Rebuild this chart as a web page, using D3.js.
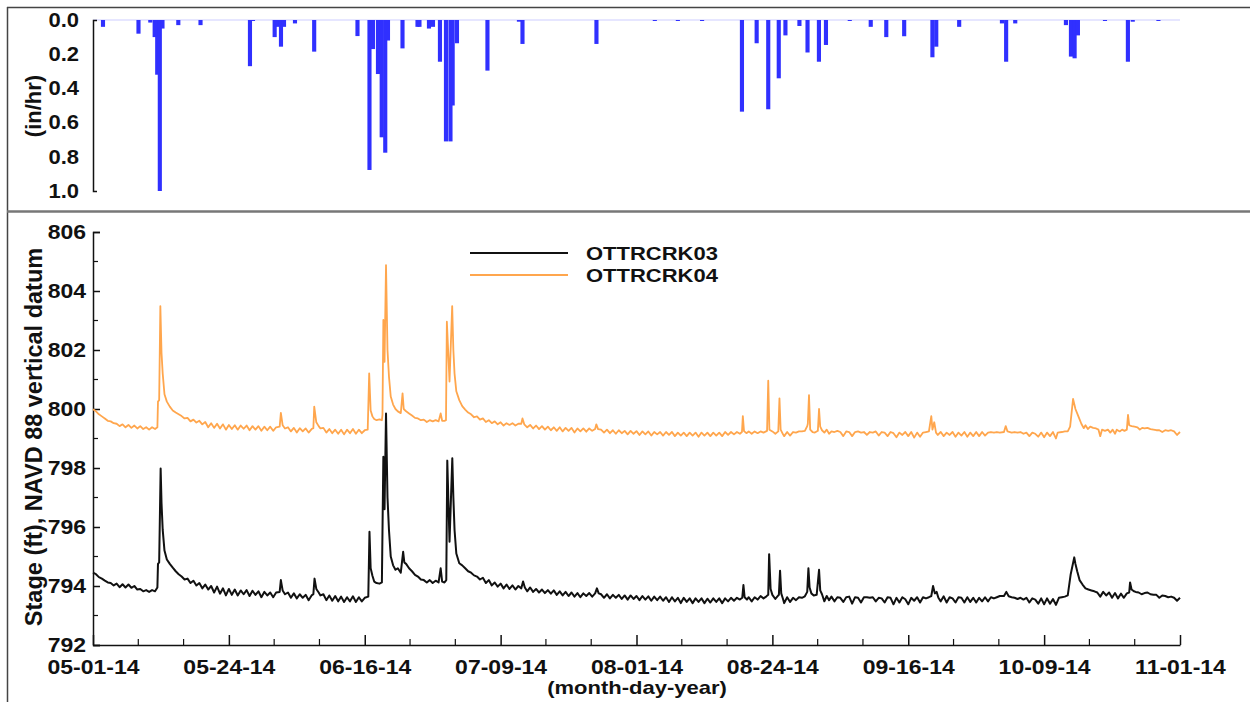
<!DOCTYPE html>
<html>
<head>
<meta charset="utf-8">
<script src="https://cdn.jsdelivr.net/npm/d3@7"></script>
<style>
  html, body { margin: 0; padding: 0; background: #fff; }
  svg text { font-family: "Liberation Sans", Arial, sans-serif; font-weight: bold; fill: #111; }
</style>
</head>
<body>
<svg id="chart" width="1250" height="702"></svg>
<script>
// Rainfall intensity: bar centre (days after 05-01-14) and rate (in/hr)
const rainDays  = [1.69, 7.70, 9.70, 10.44, 10.87, 11.31, 11.76, 14.44, 18.20, 26.57, 27.08,
  30.75, 31.31, 31.82, 32.33, 34.19, 37.44, 44.77, 46.80, 47.39, 48.24, 48.87, 49.47, 49.93,
  52.39, 54.93, 55.26, 56.87, 57.55, 58.73, 59.75, 60.51, 60.88, 61.61, 66.77, 72.10, 72.70,
  85.22, 95.1, 99.0, 103.1, 109.85, 112.34, 114.30, 116.08, 117.21, 119.58, 120.95, 122.88,
  124.07, 128.1, 131.65, 134.28, 137.31, 142.09, 142.74, 146.62, 153.86, 154.57, 156.11,
  164.69, 165.54, 166.16, 166.72, 171.3, 175.18, 176.0, 180.35];
const rainRates = [0.04, 0.08, 0.015, 0.10, 0.32, 1.00, 0.05, 0.03, 0.03, 0.27, 0.005,
  0.10, 0.04, 0.156, 0.04, 0.02, 0.185, 0.094, 0.877, 0.17, 0.316, 0.686, 0.776, 0.12,
  0.166, 0.04, 0.04, 0.05, 0.04, 0.244, 0.71, 0.71, 0.50, 0.136, 0.296, 0.01, 0.14,
  0.14, 0.004, 0.004, 0.004, 0.536, 0.136, 0.522, 0.341, 0.09, 0.035, 0.19, 0.244,
  0.146, 0.004, 0.04, 0.10, 0.095, 0.218, 0.156, 0.04, 0.02, 0.244, 0.02,
  0.03, 0.214, 0.224, 0.09, 0.004, 0.244, 0.01, 0.005];

// Stage, ft NAVD 88: [days after 05-01-14, stage]
const stage03 = [[0,794.45],[0.5,794.40],[1,794.30],[1.5,794.25],[2,794.18],[2.5,794.12],[3,794.10],[3.5,794.02],[4,794.08],[4.5,793.96],[5,794.06],[5.5,793.95],[6,794.05],[6.5,793.94],[7,794.00],[7.5,793.88],[8,793.90],[8.5,793.82],[9,793.86],[9.5,793.80],[10,793.86],[10.5,793.82],[10.9,793.95],[11.0,794.75],[11.2,794.80],[11.45,797.98],[11.6,796.8],[11.8,795.9],[12.1,795.2],[12.5,794.9],[13,794.75],[13.5,794.62],[14,794.50],[14.5,794.40],[15,794.32],[15.5,794.22],[16,794.25],[16.5,794.10],[17,794.18],[17.5,794.02],[18,794.10],[18.5,793.92],[19,794.05],[19.5,793.88],[20,794.00],[20.5,793.78],[21,793.98],[21.5,793.74],[22,793.92],[22.5,793.68],[23,793.90],[23.5,793.70],[24,793.88],[24.5,793.68],[25,793.85],[25.5,793.72],[26,793.86],[26.5,793.66],[27,793.84],[27.5,793.70],[28,793.82],[28.5,793.62],[29,793.80],[29.5,793.68],[30,793.78],[30.5,793.62],[31,793.78],[31.6,793.80],[31.8,794.20],[32.1,793.85],[32.5,793.72],[33,793.78],[33.5,793.60],[34,793.75],[34.5,793.58],[35,793.72],[35.5,793.60],[36,793.70],[36.5,793.52],[37,793.68],[37.3,793.72],[37.5,794.25],[37.8,793.90],[38.2,793.78],[38.5,793.68],[39,793.72],[39.5,793.52],[40,793.68],[40.5,793.50],[41,793.66],[41.5,793.48],[42,793.64],[42.5,793.46],[43,793.62],[43.5,793.48],[44,793.65],[44.5,793.46],[45,793.62],[45.5,793.48],[46,793.60],[46.6,793.64],[46.8,795.84],[47.0,794.6],[47.3,794.35],[47.6,794.15],[48,794.10],[48.5,794.08],[48.9,794.12],[49.15,798.38],[49.35,796.6],[49.6,799.85],[49.85,797.0],[50.1,795.9],[50.4,795.0],[50.8,794.7],[51.2,794.55],[51.6,794.6],[52.1,794.45],[52.5,795.16],[52.7,794.8],[53,794.75],[53.5,794.6],[54,794.5],[54.5,794.38],[55,794.32],[55.5,794.22],[56,794.2],[56.5,794.12],[57,794.2],[57.5,794.10],[58,794.18],[58.5,794.12],[58.85,794.6],[59.1,794.15],[59.5,794.12],[59.8,794.2],[59.97,798.25],[60.35,795.5],[60.82,798.33],[61.0,797.0],[61.2,795.9],[61.5,795.1],[62,794.77],[62.5,794.7],[63,794.6],[63.5,794.5],[64,794.45],[64.5,794.36],[65,794.32],[65.5,794.22],[66,794.28],[66.5,794.10],[67,794.2],[67.5,794.02],[68,794.12],[68.5,793.98],[69,794.08],[69.5,793.92],[70,794.05],[70.5,793.90],[71,794.02],[71.5,793.88],[72,794.0],[72.5,793.92],[72.8,794.15],[73.1,793.95],[73.5,793.82],[74,793.95],[74.5,793.80],[75,793.90],[75.5,793.78],[76,793.88],[76.5,793.76],[77,793.86],[77.5,793.74],[78,793.85],[78.5,793.70],[79,793.82],[79.5,793.68],[80,793.80],[80.5,793.66],[81,793.78],[81.5,793.64],[82,793.76],[82.5,793.62],[83,793.75],[83.5,793.66],[84,793.76],[84.5,793.64],[85,793.75],[85.3,793.92],[85.6,793.75],[86,793.72],[86.5,793.60],[87,793.72],[87.5,793.58],[88,793.70],[88.5,793.60],[89,793.70],[89.5,793.56],[90,793.68],[90.5,793.54],[91,793.68],[91.5,793.56],[92,793.66],[92.5,793.52],[93,793.66],[93.5,793.54],[94,793.65],[94.5,793.50],[95,793.64],[95.5,793.52],[96,793.64],[96.5,793.50],[97,793.62],[97.5,793.46],[98,793.62],[98.5,793.48],[99,793.60],[99.5,793.42],[100,793.60],[100.5,793.46],[101,793.58],[101.5,793.42],[102,793.58],[102.5,793.46],[103,793.58],[103.5,793.42],[104,793.57],[104.5,793.44],[105,793.58],[105.5,793.46],[106,793.58],[106.5,793.42],[107,793.58],[107.5,793.48],[108,793.60],[108.5,793.50],[109,793.60],[109.5,793.54],[109.9,793.60],[110.1,794.03],[110.3,793.62],[110.7,793.54],[111,793.62],[111.5,793.48],[112,793.62],[112.5,793.54],[113,793.66],[113.5,793.58],[114,793.65],[114.3,793.70],[114.45,795.08],[114.7,793.90],[115,793.70],[115.5,793.56],[116,793.68],[116.1,793.70],[116.3,794.52],[116.5,793.75],[116.8,793.56],[117,793.42],[117.5,793.62],[118,793.46],[118.5,793.60],[119,793.52],[119.5,793.62],[120,793.60],[120.5,793.65],[120.9,793.80],[121.1,794.60],[121.3,793.95],[121.6,793.75],[122,793.68],[122.5,793.70],[122.9,794.55],[123.1,793.85],[123.4,793.72],[123.8,793.48],[124.2,793.66],[124.6,793.52],[125,793.64],[125.5,793.48],[126,793.62],[126.5,793.60],[127,793.46],[127.5,793.62],[128,793.64],[128.5,793.40],[129,793.62],[129.5,793.60],[130,793.44],[130.5,793.62],[131,793.62],[131.5,793.60],[132,793.62],[132.5,793.48],[133,793.60],[133.5,793.58],[134,793.44],[134.5,793.62],[135,793.60],[135.5,793.38],[136,793.60],[136.5,793.44],[137,793.62],[137.5,793.55],[138,793.38],[138.5,793.60],[139,793.50],[139.5,793.62],[140,793.44],[140.5,793.62],[141,793.58],[141.5,793.62],[141.9,793.66],[142.2,794.00],[142.5,793.75],[142.8,793.80],[143.1,793.60],[143.5,793.48],[144,793.65],[144.5,793.44],[145,793.62],[145.5,793.58],[146,793.44],[146.5,793.62],[147,793.60],[147.5,793.44],[148,793.62],[148.5,793.46],[149,793.60],[149.5,793.44],[150,793.60],[150.5,793.48],[151,793.62],[151.5,793.48],[152,793.62],[152.5,793.58],[153,793.62],[153.5,793.66],[154.2,793.66],[154.6,793.80],[155,793.65],[155.5,793.62],[156,793.60],[156.5,793.56],[157,793.60],[157.5,793.54],[158,793.60],[158.5,793.44],[159,793.58],[159.5,793.54],[160,793.40],[160.5,793.58],[161,793.38],[161.5,793.58],[162,793.40],[162.5,793.56],[163,793.36],[163.5,793.60],[164,793.62],[164.5,793.64],[165,793.68],[165.5,794.40],[166.1,794.97],[166.3,794.75],[166.6,794.50],[167,794.20],[167.5,794.05],[168,793.92],[168.5,793.88],[169,793.85],[169.5,793.82],[170,793.78],[170.5,793.64],[171,793.80],[171.5,793.68],[172,793.78],[172.5,793.60],[173,793.76],[173.5,793.58],[174,793.74],[174.5,793.60],[175,793.75],[175.4,793.78],[175.55,794.12],[175.8,793.88],[176.2,793.82],[176.5,793.80],[177,793.78],[177.5,793.72],[178,793.76],[178.5,793.78],[179,793.72],[179.5,793.70],[180,793.70],[180.5,793.60],[181,793.68],[181.5,793.66],[182,793.62],[182.5,793.64],[183,793.60],[183.5,793.50],[184,793.60]];

const stage04 = [[0,799.99],[0.5,799.92],[1,799.82],[1.5,799.75],[2,799.68],[2.5,799.60],[3,799.58],[3.5,799.52],[4,799.50],[4.5,799.42],[5,799.48],[5.5,799.38],[6,799.46],[6.5,799.36],[7,799.44],[7.5,799.34],[8,799.42],[8.5,799.32],[9,799.38],[9.5,799.30],[10,799.38],[10.5,799.32],[10.9,799.38],[11.0,800.25],[11.2,800.30],[11.4,803.49],[11.6,801.9],[11.8,801.2],[12.1,800.5],[12.5,800.25],[13,800.08],[13.5,799.95],[14,799.88],[14.5,799.82],[15,799.76],[15.5,799.68],[16,799.70],[16.5,799.58],[17,799.64],[17.5,799.54],[18,799.60],[18.5,799.48],[19,799.56],[19.5,799.38],[20,799.52],[20.5,799.36],[21,799.50],[21.5,799.34],[22,799.48],[22.5,799.30],[23,799.46],[23.5,799.32],[24,799.45],[24.5,799.30],[25,799.44],[25.5,799.33],[26,799.44],[26.5,799.28],[27,799.42],[27.5,799.30],[28,799.42],[28.5,799.26],[29,799.40],[29.5,799.28],[30,799.40],[30.5,799.26],[31,799.38],[31.6,799.40],[31.8,799.87],[32.1,799.45],[32.5,799.34],[33,799.38],[33.5,799.24],[34,799.36],[34.5,799.20],[35,799.35],[35.5,799.24],[36,799.34],[36.5,799.20],[37,799.32],[37.3,799.35],[37.45,800.08],[37.8,799.55],[38.2,799.42],[38.5,799.34],[39,799.36],[39.5,799.20],[40,799.32],[40.5,799.18],[41,799.30],[41.5,799.16],[42,799.30],[42.5,799.14],[43,799.30],[43.5,799.18],[44,799.32],[44.5,799.16],[45,799.30],[45.5,799.18],[46,799.28],[46.5,799.30],[46.75,801.21],[47.0,799.95],[47.3,799.75],[47.6,799.66],[48,799.62],[48.5,799.65],[48.9,799.62],[49.0,799.80],[49.15,803.02],[49.35,801.6],[49.6,804.88],[49.85,802.0],[50.1,801.1],[50.4,800.42],[50.8,800.15],[51.2,800.00],[51.6,799.92],[52.1,799.86],[52.4,800.53],[52.6,800.00],[53,799.92],[53.5,799.85],[54,799.78],[54.5,799.70],[55,799.68],[55.5,799.62],[56,799.64],[56.5,799.56],[57,799.62],[57.5,799.58],[58,799.62],[58.5,799.58],[58.85,799.85],[59.1,799.60],[59.5,799.60],[59.75,799.62],[59.9,802.96],[60.35,800.93],[60.8,803.49],[61.0,802.0],[61.2,801.2],[61.5,800.6],[62,800.30],[62.5,800.10],[63,799.98],[63.5,799.88],[64,799.82],[64.5,799.72],[65,799.75],[65.5,799.64],[66,799.68],[66.5,799.56],[67,799.62],[67.5,799.52],[68,799.58],[68.5,799.48],[69,799.55],[69.5,799.44],[70,799.52],[70.5,799.46],[71,799.52],[71.5,799.44],[72,799.50],[72.5,799.50],[72.7,799.68],[73.0,799.48],[73.5,799.38],[74,799.46],[74.5,799.34],[75,799.44],[75.5,799.32],[76,799.42],[76.5,799.30],[77,799.40],[77.5,799.28],[78,799.38],[78.5,799.26],[79,799.38],[79.5,799.24],[80,799.36],[80.5,799.26],[81,799.36],[81.5,799.20],[82,799.34],[82.5,799.24],[83,799.34],[83.5,799.23],[84,799.34],[84.5,799.26],[85,799.32],[85.2,799.48],[85.5,799.32],[86,799.30],[86.5,799.20],[87,799.30],[87.5,799.18],[88,799.28],[88.5,799.16],[89,799.28],[89.5,799.18],[90,799.26],[90.5,799.14],[91,799.26],[91.5,799.16],[92,799.25],[92.5,799.12],[93,799.24],[93.5,799.14],[94,799.24],[94.5,799.10],[95,799.22],[95.5,799.14],[96,799.22],[96.5,799.10],[97,799.22],[97.5,799.12],[98,799.22],[98.5,799.08],[99,799.20],[99.5,799.10],[100,799.20],[100.5,799.08],[101,799.20],[101.5,799.10],[102,799.20],[102.5,799.06],[103,799.20],[103.5,799.10],[104,799.20],[104.5,799.08],[105,799.20],[105.5,799.10],[106,799.20],[106.5,799.08],[107,799.22],[107.5,799.12],[108,799.22],[108.5,799.14],[109,799.22],[109.5,799.16],[109.85,799.22],[110.0,799.76],[110.2,799.25],[110.6,799.18],[111,799.24],[111.5,799.16],[112,799.24],[112.5,799.18],[113,799.24],[113.5,799.20],[114.1,799.26],[114.3,800.96],[114.5,799.30],[115,799.24],[115.5,799.16],[116,799.24],[116.2,800.36],[116.4,799.30],[116.8,799.14],[117,799.08],[117.5,799.22],[118,799.10],[118.5,799.22],[119,799.20],[119.5,799.24],[120,799.24],[120.5,799.26],[120.9,799.42],[121.0,799.50],[121.2,800.47],[121.4,799.30],[121.8,799.22],[122.2,799.20],[122.7,799.26],[122.9,800.00],[123.1,799.40],[123.4,799.28],[123.8,799.20],[124.2,799.30],[124.6,799.16],[125,799.24],[125.5,799.22],[126,799.26],[126.5,799.22],[127,799.08],[127.5,799.24],[128,799.22],[128.5,799.08],[129,799.22],[129.5,799.24],[130,799.20],[130.5,799.22],[131,799.12],[131.5,799.22],[132,799.20],[132.5,799.24],[133,799.10],[133.5,799.22],[134,799.20],[134.5,799.08],[135,799.22],[135.5,799.18],[136,799.04],[136.5,799.20],[137,799.12],[137.5,799.22],[138,799.08],[138.5,799.22],[139,799.03],[139.5,799.20],[140,799.06],[140.5,799.20],[141,799.22],[141.5,799.24],[141.9,799.76],[142.1,799.30],[142.4,799.55],[142.7,799.20],[143,799.12],[143.5,799.22],[144,799.08],[144.5,799.20],[145,799.12],[145.5,799.22],[146,799.06],[146.5,799.20],[147,799.10],[147.5,799.22],[148,799.06],[148.5,799.20],[149,799.08],[149.5,799.22],[150,799.08],[150.5,799.22],[151,799.10],[151.5,799.20],[152,799.22],[152.5,799.20],[153,799.22],[153.5,799.20],[154.2,799.22],[154.5,799.42],[154.8,799.24],[155.5,799.20],[156,799.22],[156.5,799.20],[157,799.22],[157.5,799.16],[158,799.20],[158.5,799.08],[159,799.20],[159.5,799.16],[160,799.06],[160.5,799.20],[161,799.04],[161.5,799.20],[162,799.08],[162.5,799.22],[163,799.00],[163.3,799.20],[164,799.22],[164.5,799.24],[165,799.24],[165.4,799.40],[165.9,800.34],[166.3,800.00],[166.8,799.75],[167.3,799.50],[167.7,799.35],[168,799.45],[168.4,799.32],[168.8,799.40],[169.3,799.36],[169.8,799.34],[170.2,799.30],[170.5,799.08],[170.8,799.30],[171.3,799.26],[171.8,799.30],[172.2,799.20],[172.6,799.30],[173,799.16],[173.3,799.30],[173.8,799.24],[174.2,799.30],[174.6,799.26],[175.0,799.30],[175.2,799.80],[175.4,799.45],[175.8,799.42],[176.3,799.40],[176.8,799.38],[177.2,799.30],[177.6,799.36],[178,799.34],[178.5,799.36],[179,799.32],[179.5,799.30],[180,799.28],[180.5,799.28],[181,799.22],[181.5,799.28],[182,799.26],[182.5,799.28],[183,799.24],[183.5,799.12],[184,799.22]];

const seriesNames  = ["OTTRCRK03", "OTTRCRK04"];
const seriesColors = ["#111111", "#ffa64d"];
const rainTicks  = [0, 0.2, 0.4, 0.6, 0.8, 1.0];
const stageTicks = [792, 794, 796, 798, 800, 802, 804, 806];
const tickEveryDays = 23;
const spanDays = 184;

const startMs = Date.UTC(2014, 4, 1);
const toDate = d => new Date(startMs + d * 86400000);
const fmt = d3.utcFormat("%m-%d-%y");
const squash = 0.88;   // slightly condensed lettering height

const svg = d3.select("#chart");

// outer frame
svg.append("line").attr("x1", 7).attr("x2", 1250).attr("y1", 7.5).attr("y2", 7.5)
  .attr("stroke", "#444").attr("stroke-width", 1.5);
svg.append("line").attr("x1", 7.5).attr("x2", 7.5).attr("y1", 7).attr("y2", 702)
  .attr("stroke", "#444").attr("stroke-width", 1.5);
svg.append("line").attr("x1", 7).attr("x2", 1250).attr("y1", 211.5).attr("y2", 211.5)
  .attr("stroke", "#777").attr("stroke-width", 2.5);

const x = d3.scaleUtc().domain([toDate(0), toDate(spanDays)]).range([93, 1180]);
const yRain = d3.scaleLinear().domain([0, 1]).range([20, 191]);
const yStage = d3.scaleLinear().domain([792, 806]).range([645, 232]);

// ---- rainfall panel ----
const barHalf = 0.35;
svg.append("rect")
  .attr("x", x(toDate(0))).attr("width", x(toDate(spanDays)) - x(toDate(0)))
  .attr("y", yRain(0) - 1).attr("height", 2).attr("fill", "#e6e6ff");
svg.append("g").selectAll("rect")
  .data(rainDays.map((d, i) => ({ day: d, rate: rainRates[i] })))
  .join("rect")
  .attr("x", d => x(toDate(d.day - barHalf)))
  .attr("width", d => x(toDate(d.day + barHalf)) - x(toDate(d.day - barHalf)))
  .attr("y", yRain(0))
  .attr("height", d => Math.max(1, yRain(d.rate) - yRain(0)))
  .attr("fill", "#3030ff");

const rainAxis = svg.append("g").attr("transform", "translate(93,0)")
  .call(d3.axisLeft(yRain).tickValues(rainTicks).tickFormat(d3.format(".1f"))
    .tickSizeInner(0).tickSizeOuter(-4).tickPadding(14));
rainAxis.select(".domain").attr("stroke", "#111").attr("stroke-width", 1.5);
rainAxis.selectAll("text").attr("font-size", 22).attr("fill", "#111")
  .attr("transform", `scale(1,${squash})`);

svg.append("text")
  .attr("transform", "translate(41,106) rotate(-90)")
  .attr("text-anchor", "middle").attr("font-size", 22)
  .text("(in/hr)");

// ---- stage panel ----
const minorY = d3.range(793, 806, 2);
svg.append("g").attr("transform", "translate(93,0)")
  .selectAll("line").data(minorY).join("line")
  .attr("x1", 0).attr("x2", 5).attr("y1", d => yStage(d)).attr("y2", d => yStage(d))
  .attr("stroke", "#111").attr("stroke-width", 1.2);

const stageAxis = svg.append("g").attr("transform", "translate(93,0)")
  .call(d3.axisLeft(yStage).tickValues(stageTicks).tickFormat(d3.format("d"))
    .tickSizeInner(-7).tickSizeOuter(-7).tickPadding(7));
stageAxis.select(".domain").attr("stroke", "#111").attr("stroke-width", 1.5);
stageAxis.selectAll(".tick line").attr("stroke", "#111").attr("stroke-width", 1.5);
stageAxis.selectAll("text").attr("font-size", 23).attr("fill", "#111")
  .attr("transform", `scale(1,${squash})`);

const majorDays = d3.range(0, spanDays + 1, tickEveryDays);
const minorDays = d3.range(0, spanDays, tickEveryDays / 3).filter(d => Math.abs(d / tickEveryDays - Math.round(d / tickEveryDays)) > 1e-6);

svg.append("g").attr("transform", "translate(0,645)")
  .selectAll("line").data(minorDays).join("line")
  .attr("x1", d => x(toDate(d))).attr("x2", d => x(toDate(d)))
  .attr("y1", 0).attr("y2", -6).attr("stroke", "#111").attr("stroke-width", 1.2);

const xAxis = svg.append("g").attr("transform", "translate(0,645)")
  .call(d3.axisBottom(x).tickValues(majorDays.map(toDate)).tickFormat(fmt)
    .tickSizeInner(-10).tickSizeOuter(0));
xAxis.select(".domain").attr("stroke", "#111").attr("stroke-width", 1.5);
xAxis.selectAll(".tick line").attr("stroke", "#111").attr("stroke-width", 1.5);
// date labels sit with their baseline 29px below the axis line
xAxis.selectAll("text").attr("font-size", 23).attr("fill", "#111")
  .attr("dy", 0).attr("y", 29 / squash)
  .attr("transform", `scale(1,${squash})`);

svg.append("text")
  .attr("transform", "translate(637,694) scale(1,0.82)")
  .attr("text-anchor", "middle").attr("font-size", 22)
  .text("(month-day-year)");

svg.append("text")
  .attr("transform", "translate(42,437) rotate(-90)")
  .attr("text-anchor", "middle").attr("font-size", 23.5)
  .text("Stage (ft), NAVD 88 vertical datum");

const line = d3.line()
  .x(d => x(toDate(d[0])))
  .y(d => yStage(d[1]));

[stage04, stage03].forEach((s, i) => {
  const k = 1 - i;
  svg.append("path").datum(s)
    .attr("d", line)
    .attr("fill", "none")
    .attr("stroke", seriesColors[k])
    .attr("stroke-width", k === 0 ? 2 : 1.8)
    .attr("stroke-linejoin", "round");
});

// legend
const legend = svg.append("g");
seriesNames.forEach((name, i) => {
  const yy = 253 + i * 22;
  legend.append("line").attr("x1", 470).attr("x2", 568).attr("y1", yy).attr("y2", yy)
    .attr("stroke", seriesColors[i]).attr("stroke-width", 2);
  legend.append("text")
    .attr("transform", `translate(586,${yy}) scale(1,0.85)`)
    .attr("dy", "0.35em")
    .attr("font-size", 22).text(name);
});
</script>
</body>
</html>
